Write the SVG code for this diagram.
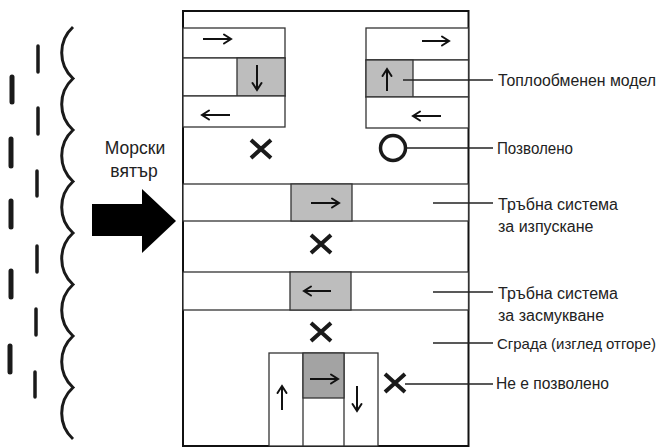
<svg xmlns="http://www.w3.org/2000/svg" width="660" height="448" viewBox="0 0 660 448">
<defs>
<marker id="ah" markerUnits="userSpaceOnUse" markerWidth="12" markerHeight="12" viewBox="0 0 12 12" refX="10" refY="6" orient="auto">
<path d="M3,1.5 L10,6 L3,10.5" fill="none" stroke="#111" stroke-width="2" stroke-linecap="round" stroke-linejoin="miter"/>
</marker>
</defs>
<style>
.bg{fill:#fff}
.wall{fill:none;stroke:#111;stroke-width:2}
.box{fill:#fff;stroke:#333;stroke-width:1.3}
.g1{fill:#bdbdbd;stroke:#333;stroke-width:1.3}
.g2{fill:#a3a3a3;stroke:#333;stroke-width:1.3}
.arr{fill:none;stroke:#111;stroke-width:2;marker-end:url(#ah)}
.x{stroke:#1a1a1a;stroke-width:4;stroke-linecap:butt}
.lead{stroke:#222;stroke-width:1.3}
.lbl{font-family:"Liberation Sans",Arial,sans-serif;font-size:16px;fill:#222}
.big{font-size:17.5px}
.sm{font-size:15px}
.wave{fill:none;stroke:#1a1a1a;stroke-width:3}
.d1{stroke:#1a1a1a;stroke-width:3.5;stroke-linecap:round}
.d2{stroke:#1a1a1a;stroke-width:5;stroke-linecap:round}
</style>
<rect class="bg" x="0" y="0" width="660" height="448"/>

<g id="sea">
<path class="wave" d="M73,27 A35,35 0 0,0 73,78.5 A35,35 0 0,0 73,130 A35,35 0 0,0 73,181.5 A35,35 0 0,0 73,233 A35,35 0 0,0 73,284.5 A35,35 0 0,0 73,336 A35,35 0 0,0 73,387.5 A35,35 0 0,0 73,439"/>
<line class="d1" x1="38" y1="46" x2="38" y2="72"/>
<line class="d1" x1="38" y1="108" x2="38" y2="134"/>
<line class="d1" x1="37" y1="171" x2="37" y2="196"/>
<line class="d1" x1="37" y1="246" x2="37" y2="272"/>
<line class="d1" x1="36" y1="309" x2="36" y2="335"/>
<line class="d1" x1="35" y1="372" x2="35" y2="397"/>
<line class="d2" x1="12" y1="77" x2="12" y2="102"/>
<line class="d2" x1="11" y1="139" x2="11" y2="166"/>
<line class="d2" x1="11" y1="201" x2="11" y2="227"/>
<line class="d2" x1="11" y1="271" x2="11" y2="297"/>
<line class="d2" x1="10" y1="346" x2="10" y2="372"/>
</g>

<g id="wind">
<text class="lbl big" x="135" y="154" text-anchor="middle">Морски</text>
<text class="lbl big" x="134" y="177" text-anchor="middle">вятър</text>
<polygon points="92,204 142,204 142,189 176,221 142,253 142,236 92,236" fill="#000"/>
</g>

<g id="building">
<rect class="wall" x="183" y="11" width="285.5" height="435"/>
</g>

<g id="hx-left">
<rect class="box" x="183" y="28" width="102" height="30"/>
<rect class="box" x="183" y="58" width="102" height="38"/>
<rect class="g1" x="237" y="58" width="48" height="38"/>
<rect class="box" x="183" y="96" width="102" height="31"/>
<line class="arr" x1="203" y1="39" x2="231" y2="39"/>
<line class="arr" x1="257" y1="65" x2="257" y2="90"/>
<line class="arr" x1="230" y1="115" x2="202" y2="115"/>
</g>

<g id="hx-right">
<rect class="box" x="366" y="28" width="102.5" height="32"/>
<rect class="box" x="366" y="60" width="102.5" height="37"/>
<rect class="g1" x="366" y="60" width="47" height="37"/>
<rect class="box" x="366" y="97" width="102.5" height="31"/>
<line class="arr" x1="422" y1="41" x2="449" y2="41"/>
<line class="arr" x1="387" y1="91" x2="387" y2="69"/>
<line class="arr" x1="441" y1="116" x2="413" y2="116"/>
</g>

<g id="exhaust">
<rect class="box" x="183" y="184" width="285.5" height="37"/>
<rect class="g1" x="291" y="184" width="61" height="37"/>
<line class="arr" x1="311" y1="203" x2="339" y2="203"/>
</g>

<g id="intake">
<rect class="box" x="183" y="272" width="285.5" height="38"/>
<rect class="g1" x="290" y="272" width="61" height="38"/>
<line class="arr" x1="331" y1="291" x2="304" y2="291"/>
</g>

<g id="hx-bottom">
<rect class="box" x="269" y="353" width="109" height="93"/>
<line class="box" x1="303" y1="353" x2="303" y2="446"/>
<line class="box" x1="344" y1="353" x2="344" y2="446"/>
<rect class="g2" x="303" y="353" width="41" height="45"/>
<line class="arr" x1="310" y1="379" x2="338" y2="379"/>
<line class="arr" x1="282" y1="410" x2="282" y2="386"/>
<line class="arr" x1="357" y1="386" x2="357" y2="411"/>
</g>

<g id="marks">
<path class="x" d="M251,140 L271,158 M271,140 L251,158"/>
<path class="x" d="M311,235 L331,253 M331,235 L311,253"/>
<path class="x" d="M311,323 L331,341 M331,323 L311,341"/>
<path class="x" d="M385,374 L405,392 M405,374 L385,392"/>
<circle cx="393" cy="148" r="12.5" fill="none" stroke="#1a1a1a" stroke-width="3.5"/>
</g>

<g id="connectors">
<line class="lead" x1="403" y1="80" x2="493" y2="80"/>
<line class="lead" x1="407" y1="148" x2="493" y2="148"/>
<line class="lead" x1="433" y1="203" x2="493" y2="203"/>
<line class="lead" x1="433" y1="292" x2="493" y2="292"/>
<line class="lead" x1="433" y1="343" x2="493" y2="343"/>
<line class="lead" x1="405" y1="384" x2="493" y2="384"/>
</g>

<g id="labels">
<text class="lbl" x="498" y="86" textLength="158" lengthAdjust="spacingAndGlyphs">Топлообменен модел</text>
<text class="lbl" x="497" y="154" textLength="76" lengthAdjust="spacingAndGlyphs">Позволено</text>
<text class="lbl" x="498" y="210" textLength="120" lengthAdjust="spacingAndGlyphs">Тръбна система</text>
<text class="lbl" x="498" y="232">за изпускане</text>
<text class="lbl" x="498" y="299" textLength="120" lengthAdjust="spacingAndGlyphs">Тръбна система</text>
<text class="lbl" x="498" y="321">за засмукване</text>
<text class="lbl sm" x="497" y="349" textLength="159" lengthAdjust="spacingAndGlyphs">Сграда (изглед отгоре)</text>
<text class="lbl" x="496" y="389" textLength="113" lengthAdjust="spacingAndGlyphs">Не е позволено</text>
</g>
</svg>
